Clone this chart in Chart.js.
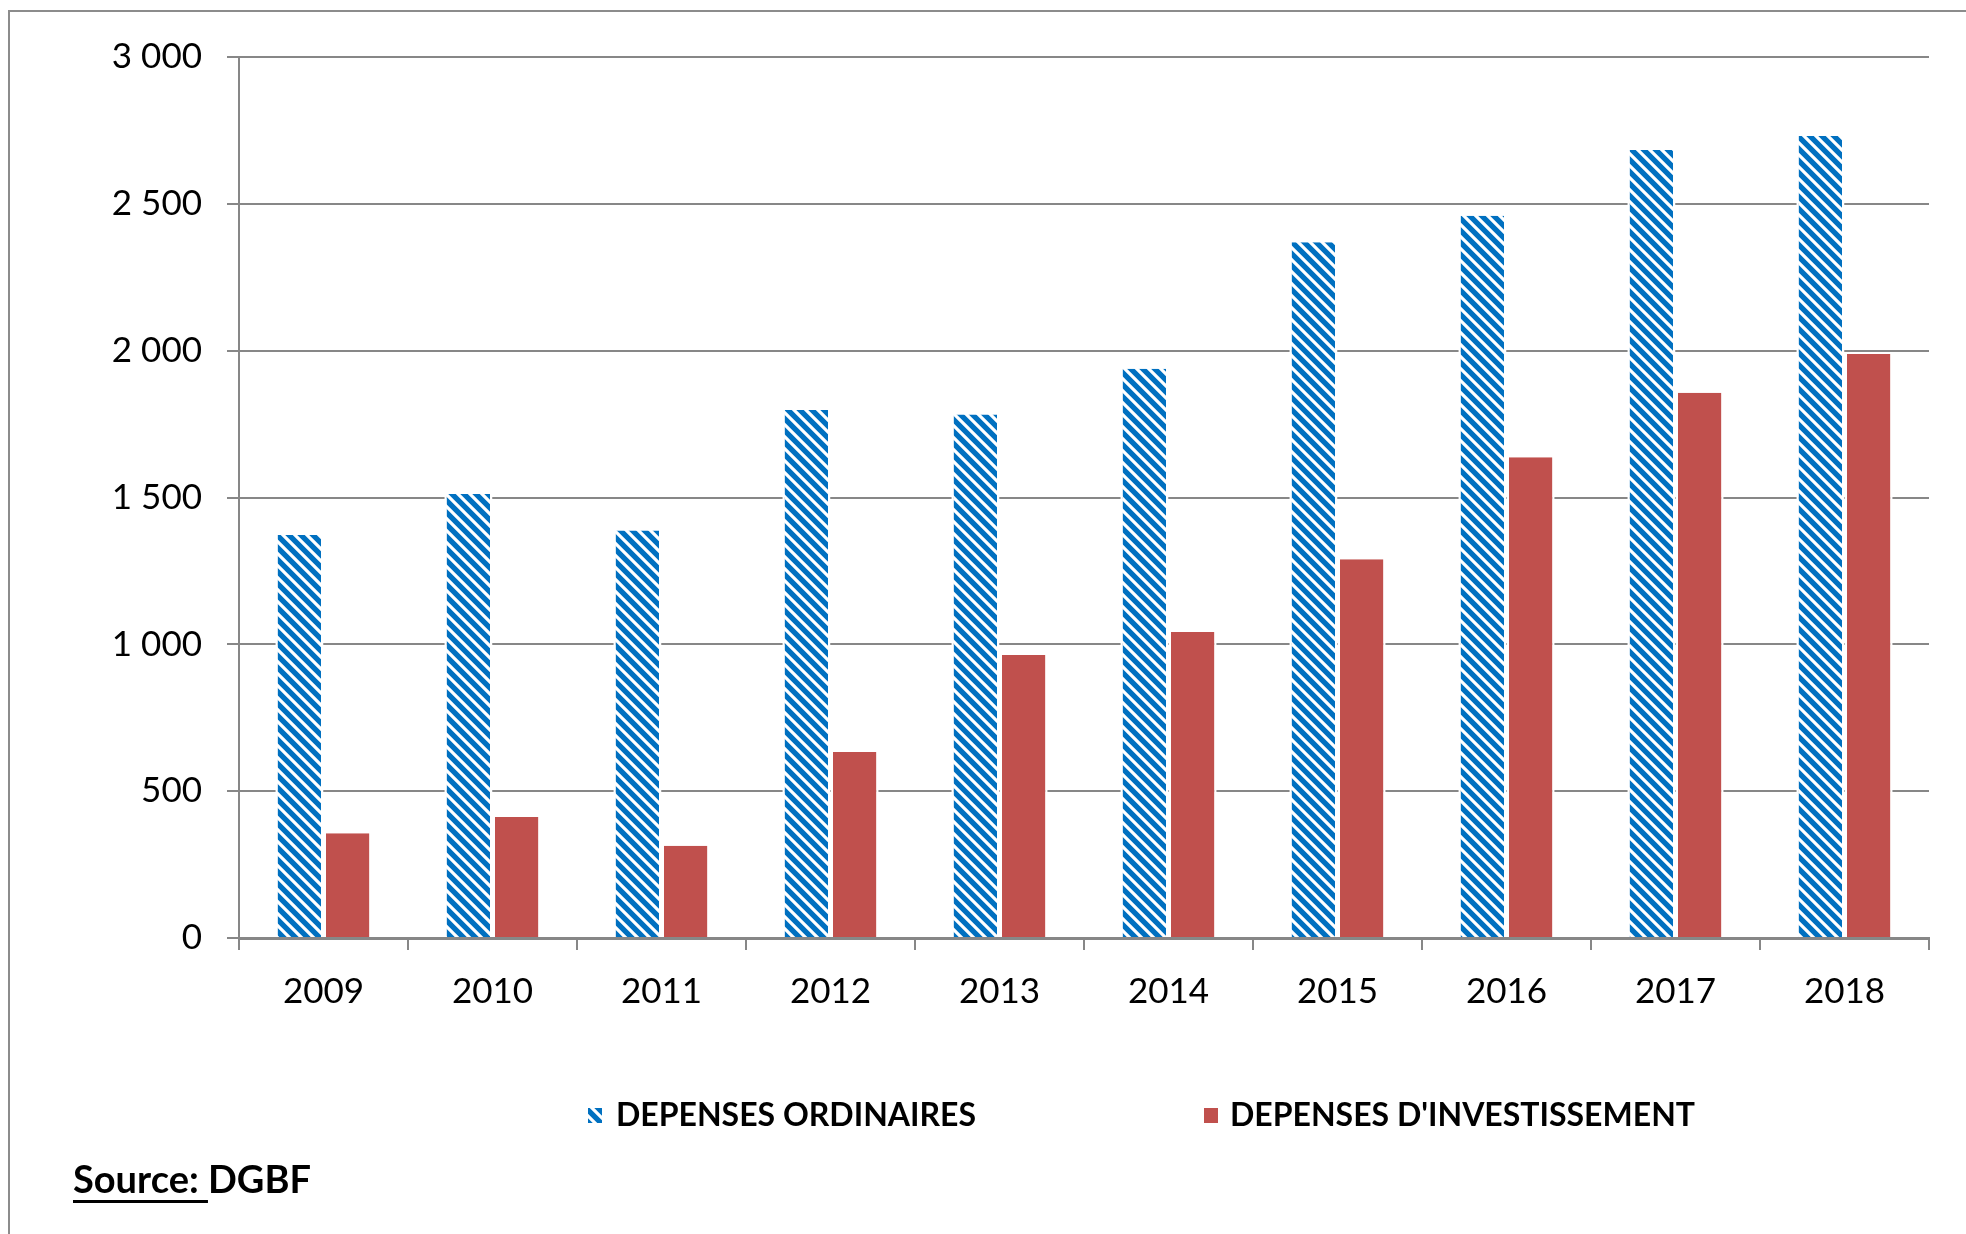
<!DOCTYPE html>
<html>
<head>
<meta charset="utf-8">
<script src="https://cdn.jsdelivr.net/npm/chart.js@4.4.1/dist/chart.umd.min.js"></script>
<style>
    html, body { margin: 0; padding: 0; background: #ffffff; }
    #wrap { width: 1966px; height: 1234px; position: relative; }
</style>
</head>
<body>
<div id="wrap">
    <canvas id="depensesChart" width="1966" height="1234"></canvas>
</div>

<script>

// =========================================
// Data
// =========================================

const categories = ["2009", "2010", "2011", "2012", "2013", "2014", "2015", "2016", "2017", "2018"];

const depensesOrdinaires = [1372, 1512, 1388, 1798, 1783, 1938, 2369, 2459, 2683, 2731];

const depensesInvestissement = [357, 412, 314, 633, 964, 1042, 1290, 1637, 1857, 1989];

const yTicks = [0, 500, 1000, 1500, 2000, 2500, 3000];

const yTickLabels = ["0", "500", "1 000", "1 500", "2 000", "2 500", "3 000"];

const seriesNames = ["DEPENSES ORDINAIRES", "DEPENSES D'INVESTISSEMENT"];


// =========================================
// Styles
// =========================================

const GRAY = "#878787";
const BLUE = "#0070c0";
const RED = "#c0504d";
const FONT = "Lato, 'Open Sans', sans-serif";


// =========================================
// Hatch pattern (white diagonal stripes)
// =========================================

function createHatch() {

    const size = 12;

    const tile = document.createElement("canvas");
    tile.width = size;
    tile.height = size;

    const c = tile.getContext("2d");

    c.fillStyle = BLUE;
    c.fillRect(0, 0, size, size);

    c.strokeStyle = "#ffffff";
    c.lineWidth = 3.2;
    c.lineCap = "square";

    c.beginPath();
    c.moveTo(-2, -2);
    c.lineTo(size + 2, size + 2);
    c.moveTo(size - 2, -2);
    c.lineTo(size + 2, 2);
    c.moveTo(-2, size - 2);
    c.lineTo(2, size + 2);
    c.stroke();

    return document.createElement("canvas").getContext("2d").createPattern(tile, "repeat");

}

const hatch = createHatch();


// =========================================
// Frame, legend and source
// =========================================

const extrasPlugin = {

    id: "extras",

    beforeDraw(chart) {

        const ctx = chart.ctx;

        ctx.save();

        ctx.fillStyle = "#ffffff";
        ctx.fillRect(0, 0, chart.width, chart.height);

        ctx.strokeStyle = "#8c8c8c";
        ctx.lineWidth = 2;

        ctx.beginPath();
        ctx.moveTo(9, chart.height + 5);
        ctx.lineTo(9, 11);
        ctx.lineTo(chart.width + 5, 11);
        ctx.stroke();

        ctx.restore();

    },

    afterDraw(chart) {

        const ctx = chart.ctx;

        ctx.save();

        // ================================
        // Legend
        // ================================

        const items = [
            { boxX: 588, textX: 616 },
            { boxX: 1204, textX: 1230 }
        ];

        const legendY = 1116;

        ctx.font = "bold 32px " + FONT;
        ctx.textBaseline = "middle";
        ctx.textAlign = "left";

        chart.data.datasets.forEach((ds, i) => {

            ctx.fillStyle = ds.backgroundColor;
            ctx.fillRect(items[i].boxX, legendY - 8, 14, 15);

            ctx.fillStyle = "#000000";
            ctx.fillText(ds.label, items[i].textX, legendY);

        });

        // ================================
        // Source
        // ================================

        ctx.font = "bold 38px " + FONT;
        ctx.textBaseline = "alphabetic";
        ctx.fillStyle = "#000000";

        const sx = 73;
        const sy = 1193;

        const part1 = "Source: ";
        const w1 = ctx.measureText(part1).width;

        ctx.fillText(part1, sx, sy);
        ctx.fillText("DGBF", sx + w1, sy);

        ctx.fillRect(sx, sy + 7, w1, 3);

        ctx.restore();

    }

};


// =========================================
// Chart
// =========================================

const barBorder = { top: 0, left: 2.5, right: 2.5, bottom: 0 };

const depensesChart = new Chart(document.getElementById("depensesChart"), {

    type: "bar",

    data: {

        labels: categories,

        datasets: [

            {
                label: seriesNames[0],
                data: depensesOrdinaires,
                backgroundColor: hatch,
                borderColor: "#ffffff",
                borderWidth: barBorder
            },

            {
                label: seriesNames[1],
                data: depensesInvestissement,
                backgroundColor: RED,
                borderColor: "#ffffff",
                borderWidth: barBorder
            }

        ]

    },

    options: {

        responsive: false,
        animation: false,
        devicePixelRatio: 1,

        categoryPercentage: 0.57,
        barPercentage: 1,

        layout: {
            padding: { left: 0, right: 37, top: 57, bottom: 196 }
        },

        plugins: {
            legend: { display: false },
            tooltip: { enabled: false }
        },

        scales: {

            x: {
                offset: true,
                afterFit(scale) { scale.height = 100; },
                grid: {
                    display: true,
                    offset: true,
                    drawOnChartArea: false,
                    drawTicks: true,
                    tickLength: 12,
                    color: GRAY,
                    lineWidth: 2
                },
                border: { display: true, color: GRAY, width: 3 },
                ticks: {
                    color: "#000000",
                    font: { family: FONT, size: 35 },
                    padding: 21,
                    maxRotation: 0
                }
            },

            y: {
                min: 0,
                max: 3000,
                afterFit(scale) { scale.width = 239; },
                afterBuildTicks(scale) {
                    scale.ticks = yTicks.map(v => ({ value: v }));
                },
                grid: {
                    color: GRAY,
                    lineWidth: 2,
                    drawTicks: true,
                    tickLength: 12
                },
                border: { display: true, color: GRAY, width: 2 },
                ticks: {
                    color: "#000000",
                    font: { family: FONT, size: 35 },
                    padding: 25,
                    callback: (value) => yTickLabels[yTicks.indexOf(value)]
                }
            }

        }

    },

    plugins: [extrasPlugin]

});

</script>
</body>
</html>
